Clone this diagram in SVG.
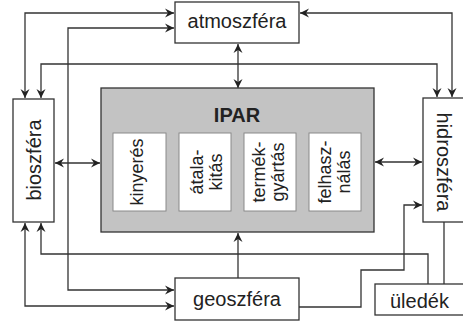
<svg xmlns="http://www.w3.org/2000/svg" width="463" height="322" viewBox="0 0 463 322">
<defs>
<style>
.box{fill:#fff;stroke:#333;stroke-width:1.3}
.ipar{fill:#c3c3c3;stroke:#333;stroke-width:1.3}
.inner{fill:#fff;stroke:#8a8a8a;stroke-width:1}
.t{font-family:"Liberation Sans",Arial,sans-serif;font-size:20px;fill:#222}
.s{font-family:"Liberation Sans",Arial,sans-serif;font-size:18px;fill:#222;text-anchor:middle}
.c{fill:none;stroke:#333;stroke-width:1.3}
.two{marker-start:url(#a);marker-end:url(#a)}
.one{marker-end:url(#a)}
</style>
<marker id="a" viewBox="-10 -5 10 10" refX="0" refY="0" markerWidth="10" markerHeight="10" markerUnits="userSpaceOnUse" orient="auto-start-reverse">
<path d="M0,0 L-9,-4.5 L-6,0 L-9,4.5 Z" fill="#222"/>
</marker>
</defs>
<g id="connectors">
<path class="c two" d="M25,98 V13 H174"/>
<path class="c two" d="M174,28 H68 V290 H174"/>
<path class="c two" d="M300,13 H452 V97"/>
<path class="c two" d="M41,98 V64 H437 V97"/>
<path class="c two" d="M238,44 V88"/>
<path class="c two" d="M55,163 H100"/>
<path class="c two" d="M375,162 H422"/>
<path class="c one" d="M238,278 V233"/>
<path class="c one" d="M428,284 V254 H41 V223"/>
<path class="c two" d="M25,223 V306 H174"/>
<path class="c one" d="M299,307 H361 V270 H404 V205 H422"/>
<path class="c" d="M444,222 V284"/>
</g>
<g id="atmoszfera">
<rect class="box" x="175" y="2" width="124" height="41"/>
<text class="t" x="237" y="28" text-anchor="middle">atmoszféra</text>
</g>
<g id="ipar">
<rect class="ipar" x="101" y="88" width="273" height="144"/>
<text class="t" x="237" y="122" text-anchor="middle" font-weight="bold">IPAR</text>
</g>
<g id="kinyeres">
<rect class="inner" x="113" y="133" width="53" height="78"/>
<text class="s" transform="translate(143,172) rotate(-90)">kinyerés</text>
</g>
<g id="atalakitas">
<rect class="inner" x="179" y="133" width="52" height="78"/>
<text class="s" transform="translate(203,172) rotate(-90)">átala-</text>
<text class="s" transform="translate(222,172) rotate(-90)">kitás</text>
</g>
<g id="termekgyartas">
<rect class="inner" x="244" y="133" width="52" height="78"/>
<text class="s" transform="translate(265,172) rotate(-90)">termék-</text>
<text class="s" transform="translate(284,172) rotate(-90)">gyártás</text>
</g>
<g id="felhasznalas">
<rect class="inner" x="309" y="133" width="52" height="78"/>
<text class="s" transform="translate(331,172) rotate(-90)">felhasz-</text>
<text class="s" transform="translate(350,172) rotate(-90)">nálás</text>
</g>
<g id="bioszfera">
<rect class="box" x="13" y="99" width="41" height="123"/>
<text class="t" text-anchor="middle" transform="translate(41,160) rotate(-90)">bioszféra</text>
</g>
<g id="hidroszfera">
<rect class="box" x="423" y="98" width="50" height="124"/>
<text class="t" text-anchor="middle" transform="translate(437,162) rotate(90)">hidroszféra</text>
</g>
<g id="geoszfera">
<rect class="box" x="175" y="278" width="124" height="42"/>
<text class="t" x="237" y="306" text-anchor="middle">geoszféra</text>
</g>
<g id="uledek">
<rect class="box" x="375" y="284" width="100" height="31"/>
<text class="t" x="390" y="308">üledék</text>
</g>
</svg>
